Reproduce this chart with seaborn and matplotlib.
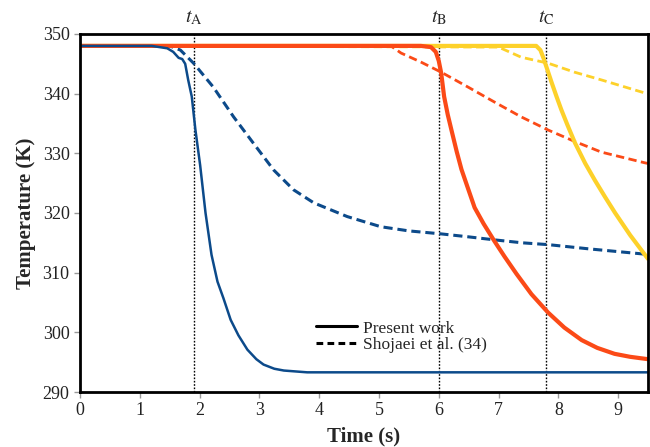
import matplotlib
matplotlib.use("Agg")
import matplotlib.pyplot as plt
from matplotlib.lines import Line2D
import seaborn as sns

# ---- data ----
blue_solid_t = [0, 1.2, 1.46, 1.56, 1.65, 1.71, 1.76, 1.81, 1.87, 1.93, 2.01, 2.1, 2.2, 2.3,
                2.4, 2.52, 2.65, 2.8, 2.95, 3.07, 3.25, 3.41, 3.8, 9.5]
blue_solid_T = [348, 348, 347.6, 347, 346, 345.8, 345, 342.3, 339.5, 334, 328, 320, 313, 308.5,
                305.7, 302.1, 299.5, 297.1, 295.5, 294.6, 293.9, 293.6, 293.3, 293.3]

blue_dash_t = [0, 1.5, 1.68, 1.9, 2.23, 2.57, 2.9, 3.24, 3.57, 3.91, 4.47, 5.03, 5.5, 6.04,
               6.5, 6.93, 7.4, 7.83, 8.5, 9.45, 9.5]
blue_dash_T = [348, 348, 347.3, 345.1, 341.1, 336.1, 331.7, 327.2, 323.9, 321.7, 319.4, 317.7,
               317, 316.5, 316, 315.5, 315, 314.7, 314, 313.1, 313]

orange_solid_t = [0, 5.7, 5.87, 5.95, 6.0, 6.04, 6.09, 6.15, 6.21, 6.3, 6.38, 6.5, 6.6, 6.75,
                  6.93, 7.1, 7.3, 7.55, 7.83, 8.1, 8.39, 8.65, 8.94, 9.2, 9.5]
orange_solid_T = [348, 348, 347.8, 347, 345.5, 343.5, 339.5, 336.5, 334, 330.3, 327.3, 323.8,
                  320.9, 318.2, 315.3, 312.7, 309.8, 306.4, 303.3, 300.8, 298.7, 297.4,
                  296.4, 295.9, 295.5]

orange_dash_t = [0, 5.2, 5.37, 5.7, 6.04, 6.49, 6.93, 7.38, 7.83, 8.27, 8.72, 9.45, 9.5]
orange_dash_T = [348, 348, 346.8, 345.3, 343.6, 341.1, 338.6, 336.1, 333.9, 332, 330.2, 328.4, 328.3]

yellow_solid_t = [0, 7.55, 7.63, 7.7, 7.75, 7.8, 7.89, 7.97, 8.05, 8.15, 8.28, 8.45, 8.61,
                  8.78, 8.95, 9.2, 9.5]
yellow_solid_T = [348, 348, 348, 347.3, 346, 344.5, 341.8, 339.5, 337.3, 334.8, 331.7, 328.3,
                  325.5, 322.7, 320, 316.3, 312.3]

yellow_dash_t = [0, 7.0, 7.38, 7.83, 8.27, 8.72, 9.45, 9.5]
yellow_dash_T = [348, 347.8, 346.1, 345.1, 343.6, 342.3, 340.1, 340]

marker_times = [1.9, 6.0, 7.8]
marker_labels = [r"$t_{\mathrm{A}}$", r"$t_{\mathrm{B}}$", r"$t_{\mathrm{C}}$"]

x_ticks = [0, 1, 2, 3, 4, 5, 6, 7, 8, 9]
y_ticks = [290, 300, 310, 320, 330, 340, 350]

legend_labels = ["Present work", "Shojaei et al. (34)"]

# ---- style ----
sns.set_style("ticks")
plt.rcParams["font.family"] = ["Liberation Serif", "DejaVu Serif"]
plt.rcParams["mathtext.fontset"] = "stix"

BLUE = "#0c4a8a"
ORANGE = "#fb4a17"
YELLOW = "#fdd12a"

fig = plt.figure(figsize=(6.5, 4.47), dpi=100)
ax = fig.add_axes([0.123, 0.123, 0.874, 0.801])

dash = (3.0, 1.6)
sns.lineplot(x=yellow_dash_t, y=yellow_dash_T, ax=ax, color=YELLOW, lw=2.0,
             linestyle=(0, dash), sort=False)
sns.lineplot(x=orange_dash_t, y=orange_dash_T, ax=ax, color=ORANGE, lw=2.0,
             linestyle=(0, dash), sort=False)
sns.lineplot(x=blue_dash_t, y=blue_dash_T, ax=ax, color=BLUE, lw=2.2,
             linestyle=(0, dash), sort=False)
sns.lineplot(x=yellow_solid_t, y=yellow_solid_T, ax=ax, color=YELLOW, lw=3.0, sort=False)
sns.lineplot(x=orange_solid_t, y=orange_solid_T, ax=ax, color=ORANGE, lw=3.0, sort=False)
sns.lineplot(x=blue_solid_t, y=blue_solid_T, ax=ax, color=BLUE, lw=1.8, sort=False)

for t, lab in zip(marker_times, marker_labels):
    ax.axvline(t, color="black", lw=1.0, linestyle=(0, (1.2, 1.2)), zorder=1)
    ax.text(t, 351.2, lab, ha="center", va="bottom", fontsize=14.5, clip_on=False)

ax.set_xlim(0, 9.5)
ax.set_ylim(290, 350)
ax.set_xticks(x_ticks)
ax.set_yticks(y_ticks)
ax.tick_params(direction="out", length=4.5, width=1, colors="#999999", labelcolor="#222222",
               labelsize=13, pad=3)
for s in ax.spines.values():
    s.set_linewidth(2.0)
    s.set_color("black")
    s.set_visible(True)

ax.set_xlabel("Time (s)", fontsize=15, fontweight="bold", labelpad=5)
ax.set_ylabel("Temperature (K)", fontsize=15, fontweight="bold", labelpad=5)

handles = [Line2D([0], [0], color="black", lw=2.2),
           Line2D([0], [0], color="black", lw=2.2, linestyle=(0, (2.2, 1.4)))]
ax.legend(handles, legend_labels, loc="upper left", bbox_to_anchor=(0.415, 0.2),
          frameon=False, fontsize=12.5, handlelength=2.4, handletextpad=0.3,
          labelspacing=0.0, borderpad=0, borderaxespad=0)

fig.savefig("out.png", dpi=100)
